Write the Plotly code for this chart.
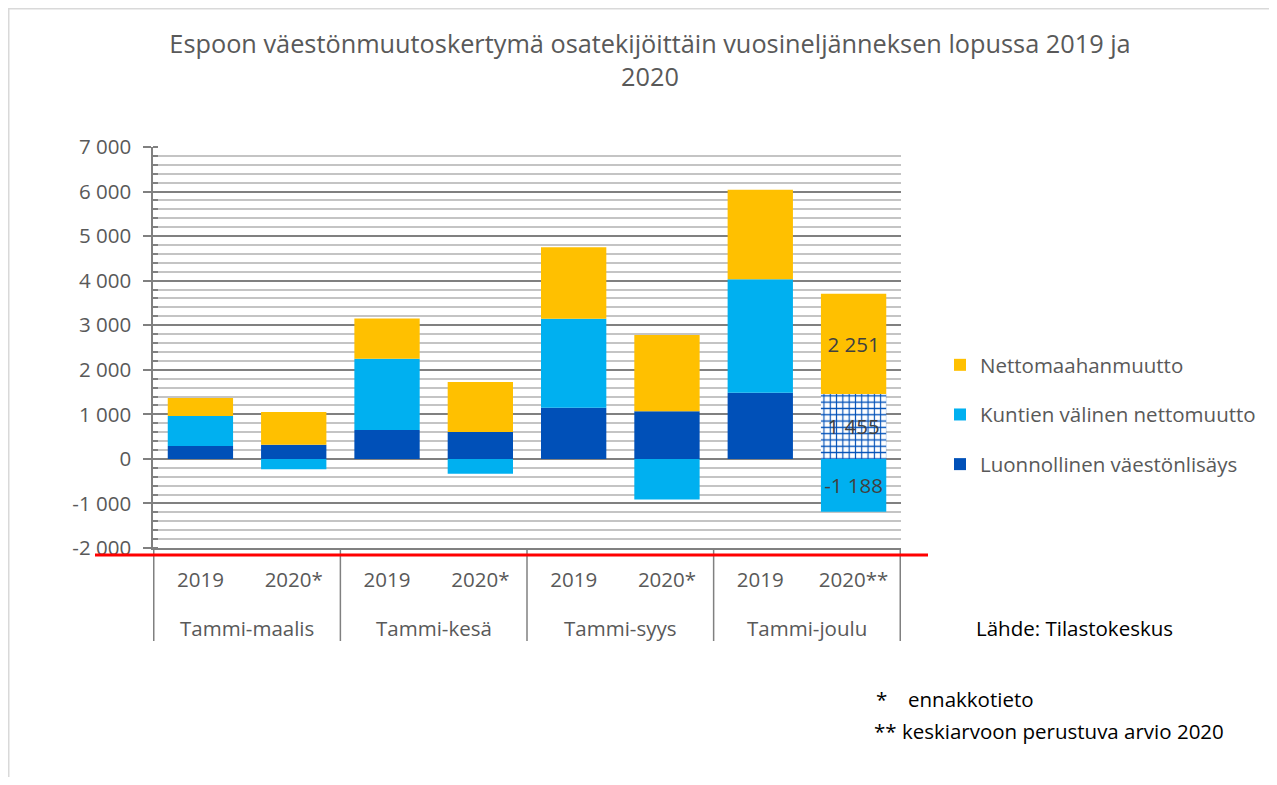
import plotly.graph_objects as go

# ---- data ----
periods = ["Tammi-maalis", "Tammi-kesä", "Tammi-syys", "Tammi-joulu"]
years = ["2019", "2020*", "2019", "2020*", "2019", "2020*", "2019", "2020**"]
outer = [p for p in periods for _ in range(2)]
cats = [f"{o} {y}" for o, y in zip(outer, years)]

luonnollinen = [290, 320, 650, 605, 1145, 1070, 1485, 1455]
kuntien = [670, -230, 1600, -335, 2000, -910, 2545, -1188]
netto = [405, 730, 900, 1120, 1605, 1710, 2010, 2251]

labelled = [False] * 7 + [True]   # only the 2020** estimate carries value labels
y_ticks = list(range(-2000, 7001, 1000))

names = ["Luonnollinen väestönlisäys", "Kuntien välinen nettomuutto", "Nettomaahanmuutto"]
colors = ["#0050B8", "#00B0F0", "#FFC000"]


def fmt(v):
    s = f"{abs(v):,}".replace(",", " ")
    return ("-" if v < 0 else "") + s


FONT = "Open Sans"
GREY = "#595959"
FS = 20.5

# layout geometry (figure is placed 8px into the page)
OFF = 8
L, T, PW, PH = 145, 139, 748, 401
W, H = 1261, 769


def px(xpage):
    return (xpage - OFF - L) / PW


def py(ypage):
    return (T + PH - (ypage - OFF)) / PH


fig = go.Figure()

series = [luonnollinen, kuntien, netto]
for i, (name, vals, col) in enumerate(zip(names, series, colors)):
    marker = dict(color=col, line=dict(width=0))
    if i == 0:
        marker = dict(
            color=col,
            line=dict(width=0),
            pattern=dict(shape=["+" if l else "" for l in labelled],
                         fgcolor=[col] * len(labelled),
                         bgcolor=["white"] * len(labelled),
                         fgopacity=1, size=6.3, solidity=0.33,
                         fillmode="replace"),
        )
    fig.add_trace(go.Bar(
        x=cats, y=vals, name=name, marker=marker,
        legendgroup=f"g{i}", legendrank=3 - i,
        text=[fmt(v) if l else "" for v, l in zip(vals, labelled)],
        textposition="inside", insidetextanchor="middle", textangle=0,
        textfont=dict(family=FONT, size=FS, color="#404040"),
        constraintext="none",
    ))

fig.update_layout(
    width=W, height=H,
    margin=dict(l=L, r=W - L - PW, t=T, b=H - T - PH, autoexpand=False),
    paper_bgcolor="white", plot_bgcolor="white",
    barmode="relative", bargap=0.3,
    font=dict(family=FONT, size=FS, color=GREY),
    title=dict(
        text="Espoon väestönmuutoskertymä osatekijöittäin vuosineljänneksen lopussa 2019 ja<br>2020",
        x=(650 - OFF) / W, xref="container", xanchor="center",
        y=1 - 45 / H, yref="container", yanchor="top",
        font=dict(family=FONT, size=25.3, color=GREY),
    ),
    legend=dict(
        x=px(940), xanchor="left", y=py(345), yanchor="top",
        traceorder="grouped", tracegroupgap=20,
        font=dict(family=FONT, size=FS, color=GREY),
        bgcolor="rgba(0,0,0,0)",
    ),
    showlegend=True,
)

fig.update_yaxes(
    range=[-2000, 7000],
    tickvals=y_ticks, ticktext=[fmt(v) for v in y_ticks],
    showgrid=True, gridcolor="#808080", gridwidth=1.5,
    zeroline=False,
    showline=True, linecolor="#808080", linewidth=1.5,
    ticks="outside", ticklen=8, tickwidth=1.5, tickcolor="#808080",
    ticklabelstandoff=8,
    tickfont=dict(family=FONT, size=FS, color=GREY),
    minor=dict(dtick=200, showgrid=True, gridcolor="#c4c4c4", gridwidth=1.5,
               ticks="inside", ticklen=5, tickcolor="#808080", tickwidth=1.5),
)

fig.update_xaxes(
    type="category",
    tickvals=cats, ticktext=years,
    showline=True, linecolor="#808080", linewidth=1.5,
    ticks="", ticklabelstandoff=13,
    tickfont=dict(family=FONT, size=FS, color=GREY),
    showgrid=False,
)

# group dividers and group labels below the axis
n_per = 2
for g, p in enumerate(periods):
    fig.add_annotation(text=p, xref="x", yref="paper",
                       x=g * n_per + (n_per - 1) / 2, y=py(628),
                       xanchor="center", yanchor="middle", showarrow=False,
                       font=dict(family=FONT, size=FS, color=GREY))
for b in range(len(periods) + 1):
    xb = b * n_per - 0.5
    fig.add_shape(type="line", xref="x", yref="paper",
                  x0=xb, x1=xb, y0=0, y1=py(641),
                  line=dict(color="#808080", width=1.5))

# red line under the axis
fig.add_shape(type="line", xref="paper", yref="paper",
              x0=px(95), x1=px(928), y0=py(555), y1=py(555),
              line=dict(color="#FF0000", width=3))
# outer light border
fig.add_shape(type="rect", xref="paper", yref="paper",
              x0=px(8.5), x1=px(1400), y0=py(900), y1=py(8.5),
              line=dict(color="#D9D9D9", width=2), layer="below")

ann_font = dict(family=FONT, size=FS, color="black")
fig.add_annotation(text="Lähde: Tilastokeskus", xref="paper", yref="paper",
                   x=px(974), y=py(628), xanchor="left", yanchor="middle",
                   showarrow=False, font=ann_font)
fig.add_annotation(text="*", xref="paper", yref="paper",
                   x=px(874), y=py(699), xanchor="left", yanchor="middle",
                   showarrow=False, font=ann_font)
fig.add_annotation(text="ennakkotieto", xref="paper", yref="paper",
                   x=px(906), y=py(699), xanchor="left", yanchor="middle",
                   showarrow=False, font=ann_font)
fig.add_annotation(text="** keskiarvoon perustuva arvio 2020", xref="paper", yref="paper",
                   x=px(872), y=py(731), xanchor="left", yanchor="middle",
                   showarrow=False, font=ann_font)

fig.write_html("out.html")
